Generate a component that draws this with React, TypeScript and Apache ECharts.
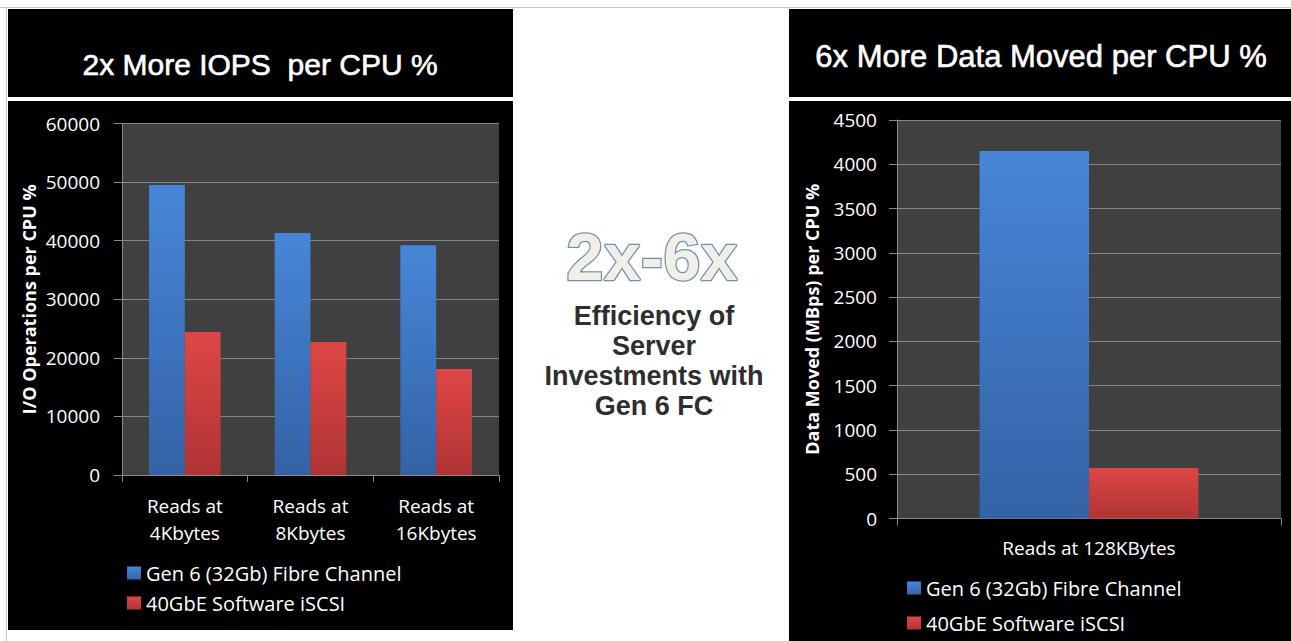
import React, { useEffect, useRef } from "react";
import * as echarts from "echarts";

const iopsCategories = ["Reads at\n4Kbytes", "Reads at\n8Kbytes", "Reads at\n16Kbytes"];
const iopsFibreChannel = [49500, 41300, 39200];
const iopsIscsi = [24400, 22700, 18100];

const dataCategories = ["Reads at 128KBytes"];
const dataFibreChannel = [4150];
const dataIscsi = [570];

const seriesNames = ["Gen 6 (32Gb) Fibre Channel", "40GbE Software iSCSI"];
const leftTitle = "2x More IOPS  per CPU %";
const rightTitle = "6x More Data Moved per CPU %";
const leftAxisName = "I/O Operations per CPU %";
const rightAxisName = "Data Moved (MBps) per CPU %";
const bigText = "2x-6x";
const centerText = "Efficiency of\nServer\nInvestments with\nGen 6 FC";

const FONT = "'Open Sans', 'DejaVu Sans', sans-serif";
const ARIAL = "'Liberation Sans', Arial, sans-serif";

export default function App() {
  const ref = useRef<HTMLDivElement>(null);
  useEffect(() => {
    if (!ref.current) return;
    const chart = echarts.init(ref.current, undefined, { renderer: "svg" });
    const blue = new echarts.graphic.LinearGradient(0, 0, 0, 1, [
      { offset: 0, color: "#4786d8" },
      { offset: 1, color: "#3462a6" },
    ]);
    const red = new echarts.graphic.LinearGradient(0, 0, 0, 1, [
      { offset: 0, color: "#de4646" },
      { offset: 1, color: "#b03434" },
    ]);
    const gridLine = { lineStyle: { color: "#858585", width: 1 } };
    const axisLine = { show: true, lineStyle: { color: "#8a8a8a", width: 1 } };
    const yLabel = {
      color: "#ffffff", fontFamily: FONT, fontSize: 19,
      formatter: (v: number) => String(v),
    };
    const legendCommon = {
      orient: "vertical" as const,
      data: seriesNames,
      icon: "rect",
      itemWidth: 14,
      itemHeight: 13,
      itemGap: 10,
      textStyle: { color: "#ffffff", fontFamily: FONT, fontSize: 20, lineHeight: 20 },
      selectedMode: false,
      padding: 0,
    };
    const nameStyle = { color: "#ffffff", fontFamily: FONT, fontSize: 18, fontWeight: "bold" };
    chart.setOption({
      animation: false,
      backgroundColor: "#ffffff",
      graphic: [
        { type: "line", z: -100, shape: { x1: 0, y1: 7.5, x2: 1291, y2: 7.5 }, style: { stroke: "#c8c8c8", lineWidth: 1 } },
        { type: "line", z: -100, shape: { x1: 6.5, y1: 7, x2: 6.5, y2: 641 }, style: { stroke: "#c8c8c8", lineWidth: 1 } },
        { type: "rect", z: -100, shape: { x: 8, y: 9, width: 505, height: 88 }, style: { fill: "#000000" } },
        { type: "rect", z: -100, shape: { x: 8, y: 101, width: 505, height: 529 }, style: { fill: "#000000" } },
        { type: "rect", z: -100, shape: { x: 789, y: 9, width: 502, height: 88 }, style: { fill: "#000000" } },
        { type: "rect", z: -100, shape: { x: 789, y: 101, width: 502, height: 540 }, style: { fill: "#000000" } },
        {
          type: "text", z: 10, x: 260, y: 64,
          style: {
            text: leftTitle, fill: "#ffffff", font: `30px ${ARIAL}`, textAlign: "center", textVerticalAlign: "middle",
            stroke: "#ffffff", lineWidth: 0.6,
          },
        },
        {
          type: "text", z: 10, x: 1041, y: 56,
          style: {
            text: rightTitle, fill: "#ffffff", font: `31px ${ARIAL}`, textAlign: "center", textVerticalAlign: "middle",
            stroke: "#ffffff", lineWidth: 0.6,
          },
        },
        {
          type: "text", z: 10, x: 652, y: 256,
          style: {
            text: bigText, fill: "#f2efe6", stroke: "#6f8fb8", lineWidth: 2.5,
            font: `bold 67px ${ARIAL}`, textAlign: "center", textVerticalAlign: "middle",
          },
        },
        {
          type: "text", z: 10, x: 654, y: 361,
          style: {
            text: centerText, fill: "#2e2e2e", font: `bold 27px ${ARIAL}`, lineHeight: 30,
            textAlign: "center", textVerticalAlign: "middle",
          },
        },
      ],
      legend: [
        { ...legendCommon, left: 127, top: 563 },
        { ...legendCommon, left: 907, top: 578, itemGap: 15 },
      ],
      grid: [
        { left: 122, right: 792, top: 123.5, bottom: 166, show: true, backgroundColor: "#404040", borderWidth: 0 },
        { left: 897, right: 10, top: 120, bottom: 122.5, show: true, backgroundColor: "#404040", borderWidth: 0 },
      ],
      xAxis: [
        {
          type: "category", gridIndex: 0, data: iopsCategories,
          axisLine, axisTick: { show: true, length: 7, lineStyle: { color: "#8a8a8a" } },
          axisLabel: { color: "#ffffff", fontFamily: FONT, fontSize: 19, lineHeight: 27, margin: 17, interval: 0 },
        },
        {
          type: "category", gridIndex: 1, data: dataCategories,
          axisLine, axisTick: { show: true, length: 7, lineStyle: { color: "#8a8a8a" } },
          axisLabel: { color: "#ffffff", fontFamily: FONT, fontSize: 19, lineHeight: 27, margin: 16 },
        },
      ],
      yAxis: [
        {
          type: "value", gridIndex: 0, min: 0, max: 60000, interval: 10000,
          axisLine, axisTick: { show: true, length: 8, lineStyle: { color: "#8a8a8a" } },
          splitLine: { show: true, ...gridLine },
          axisLabel: { ...yLabel, margin: 22 },
          name: leftAxisName, nameLocation: "middle", nameGap: 84, nameRotate: 90,
          nameTextStyle: nameStyle,
        },
        {
          type: "value", gridIndex: 1, min: 0, max: 4500, interval: 500,
          axisLine, axisTick: { show: true, length: 8, lineStyle: { color: "#8a8a8a" } },
          splitLine: { show: true, ...gridLine },
          axisLabel: { ...yLabel, margin: 20 },
          name: rightAxisName, nameLocation: "middle", nameGap: 76, nameRotate: 90,
          nameTextStyle: nameStyle,
        },
      ],
      series: [
        { name: seriesNames[0], type: "bar", xAxisIndex: 0, yAxisIndex: 0, data: iopsFibreChannel, itemStyle: { color: blue }, barGap: "0%", barCategoryGap: "43%" },
        { name: seriesNames[1], type: "bar", xAxisIndex: 0, yAxisIndex: 0, data: iopsIscsi, itemStyle: { color: red }, barGap: "0%", barCategoryGap: "43%" },
        { name: seriesNames[0], type: "bar", xAxisIndex: 1, yAxisIndex: 1, data: dataFibreChannel, itemStyle: { color: blue }, barGap: "0%", barCategoryGap: "43%" },
        { name: seriesNames[1], type: "bar", xAxisIndex: 1, yAxisIndex: 1, data: dataIscsi, itemStyle: { color: red }, barGap: "0%", barCategoryGap: "43%" },
      ],
    });
    return () => chart.dispose();
  }, []);
  return (
    <div
      ref={ref}
      style={{ position: "fixed", left: 0, top: 0, width: 1291, height: 641 }}
    />
  );
}
